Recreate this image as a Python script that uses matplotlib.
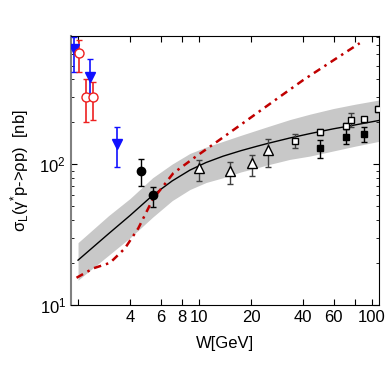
import numpy as np
import matplotlib
matplotlib.use("Agg")
import matplotlib.pyplot as plt
from matplotlib.ticker import FixedLocator, FixedFormatter, LogLocator, NullFormatter

plt.rcParams['font.family'] = ['Liberation Sans', 'DejaVu Sans']
plt.rcParams['mathtext.default'] = 'regular'

# model curve (solid) and its uncertainty band
curve_w = [2.0, 3.0, 4.0, 5.4, 7.0, 8.87, 11.0, 13.8, 17.5, 21.6, 25.2, 33.6, 43.8, 60.0, 80.0, 110.0]
curve_s = [20.8, 32.0, 43.2, 60.0, 75.9, 90.6, 102.6, 113.8, 124.5, 133.7, 140.5, 153.2, 164.5, 178.0, 189.6, 204.0]
band_hi = [27.7, 43.0, 57.0, 80.0, 100.0, 119.0, 132.0, 145.0, 160.0, 174.0, 185.0, 207.0, 226.0, 248.0, 266.0, 285.0]
band_lo = [15.0, 22.5, 30.0, 42.0, 55.0, 66.0, 74.0, 80.0, 88.0, 94.0, 99.0, 108.0, 114.0, 124.0, 134.0, 145.0]

# second model (dash-dot)
red_w = [1.96, 2.45, 3.06, 3.73, 4.46, 5.4, 7.1, 9.5, 12.7, 18.9, 29.4, 40.0, 60.0, 85.0]
red_s = [15.6, 18.2, 19.9, 25.2, 35.0, 56.0, 86.0, 112.0, 144.0, 204.0, 301.0, 394.0, 546.0, 721.0]

# data sets
blue_w = [1.89, 2.34, 3.36]
blue_s = [655, 414, 139]
blue_up = [140, 142, 44]
blue_dn = [206, 125, 44]

redc_w = [2.02, 2.22, 2.44]
redc_s = [613, 299, 299]
redc_up = [144, 102, 83]
redc_dn = [164, 100, 94]

bc_w = [4.63, 5.42]
bc_s = [89.6, 60.0]
bc_up = [19, 8.7]
bc_dn = [19.5, 10.5]

tri_w = [10.0, 15.1, 20.2, 25.1]
tri_s = [93.7, 89.2, 101.6, 126.0]
tri_up = [13.3, 13.8, 14.4, 24.0]
tri_dn = [17.7, 17.2, 19.6, 31.0]

osq_w = [35.9, 50.0, 70.6, 75.4, 90.0, 108.0]
osq_s = [146, 169, 186, 207, 208, 245]
osq_up = [17, 8, 10, 22, 8, 12]
osq_dn = [16, 8, 10, 25, 8, 12]

fsq_w = [50.0, 70.6, 90.0]
fsq_s = [129, 155, 163]
fsq_up = [19, 21, 19]
fsq_dn = [19, 16, 20]

x_ticks = [2, 4, 6, 8, 10, 20, 40, 60, 80, 100]
x_labels = ['', '4', '6', '8', '10', '20', '40', '60', '', '100']

fig = plt.figure(figsize=(3.92, 3.92), dpi=100)
ax = fig.add_axes([0.181, 0.222, 0.786, 0.686])

ax.fill_between(curve_w, band_lo, band_hi, color='#c8c8c8', lw=0, zorder=1)
ax.plot(curve_w, curve_s, color='black', lw=1.0, zorder=3)
ax.plot(red_w, red_s, color='#c00000', lw=1.8, ls=(0, (3, 2, 1, 2)), zorder=4)

ax.errorbar(blue_w, blue_s, yerr=[blue_dn, blue_up], fmt='v', color='#1010ff', ms=6.5,
            capsize=2.5, elinewidth=1.2, zorder=5)
ax.errorbar(redc_w, redc_s, yerr=[redc_dn, redc_up], fmt='o', mfc='white', mec='#ee2020',
            ecolor='#ee2020', ms=6.5, capsize=2.5, elinewidth=1.2, zorder=5)
ax.errorbar(bc_w, bc_s, yerr=[bc_dn, bc_up], fmt='o', color='black', ms=6,
            capsize=2.5, elinewidth=1.0, zorder=5)
ax.errorbar(tri_w, tri_s, yerr=[tri_dn, tri_up], fmt='^', mfc='white', mec='black',
            ecolor='0.25', ms=6.5, capsize=2.5, elinewidth=1.0, zorder=5)
ax.errorbar(fsq_w, fsq_s, yerr=[fsq_dn, fsq_up], fmt='s', color='black', ms=5,
            capsize=2.5, elinewidth=1.0, zorder=5)
ax.errorbar(osq_w, osq_s, yerr=[osq_dn, osq_up], fmt='s', mfc='white', mec='black',
            ecolor='0.25', ms=5, capsize=2.5, elinewidth=1.0, zorder=6)

ax.set_xscale('log')
ax.set_yscale('log')
ax.set_xlim(1.82, 110)
ax.set_ylim(10, 810)

ax.xaxis.set_major_locator(FixedLocator(x_ticks))
ax.xaxis.set_major_formatter(FixedFormatter(x_labels))
ax.xaxis.set_minor_locator(FixedLocator([]))
ax.yaxis.set_major_locator(LogLocator(base=10))
ax.yaxis.set_minor_locator(LogLocator(base=10, subs=np.arange(2, 10)))
ax.yaxis.set_minor_formatter(NullFormatter())

ax.tick_params(which='both', direction='in', top=True, right=True, labelsize=12)
ax.tick_params(which='major', length=4)
ax.tick_params(which='minor', length=2.5)
ax.spines['left'].set_color('0.5')
ax.spines['left'].set_linewidth(1.5)

ax.set_xlabel('W[GeV]', fontsize=12, labelpad=8)
ax.set_ylabel('σ$_{L}$(γ$^{*}$p->ρp)  [nb]', fontsize=12, labelpad=6)

fig.savefig('out.png', dpi=100)
